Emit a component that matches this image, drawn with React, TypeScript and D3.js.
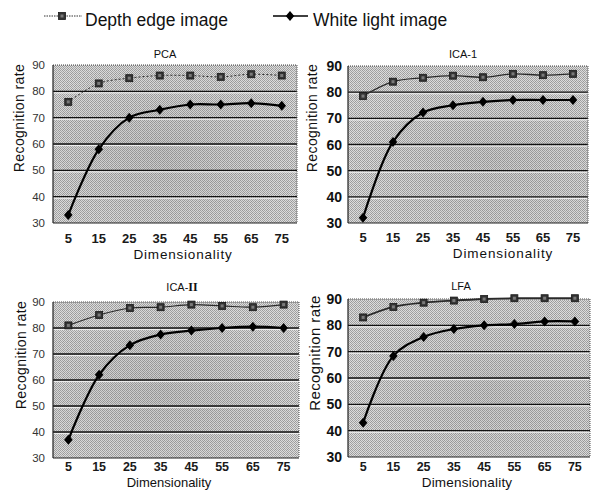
import React from "react";
import * as d3 from "d3";

const dims = ["5", "15", "25", "35", "45", "55", "65", "75"];
const yTicks = [30, 40, 50, 60, 70, 80, 90];
const gridValues = [40, 50, 60, 70, 80];

const pcaDepth = [76, 83, 85, 86, 86, 85.5, 86.5, 86];
const pcaWhite = [33, 58, 70, 73, 75, 75, 75.5, 74.5];
const ica1Depth = [78.5, 84, 85.5, 86.3, 85.7, 87, 86.5, 87];
const ica1White = [32, 61, 72.2, 75, 76.3, 77, 77, 77];
const ica2Depth = [81, 85, 87.7, 88, 89, 88.5, 88, 89];
const ica2White = [37, 62, 73.4, 77.5, 79, 80, 80.5, 80];
const lfaDepth = [83, 87, 88.6, 89.4, 90, 90.3, 90.3, 90.3];
const lfaWhite = [43, 68.4, 75.6, 78.6, 80, 80.5, 81.5, 81.5];

const legendLabels = ["Depth edge image", "White light image"];
const yTitle = "Recognition rate";
const xTitle = "Dimensionality";

const FONT = "'Liberation Sans', Arial, sans-serif";

type Panel = {
  title: string;
  roman?: string;
  depth: number[];
  white: number[];
  x0: number; x1: number; y0: number; y1: number;
  titleX: number; titleY: number;
  yLabX: number; yLabY: number; yLabSize: number;
  yTickRight: number; yTickSize: number; yTickBold: boolean;
  xTickY: number; xTickSize: number; xTitleX: number; xTitleY: number; xTitleSize: number; xTitleSpacing: number;
  depthDash: string; depthWidth: number;
};

const panels: Panel[] = [
  {
    title: "PCA", depth: pcaDepth, white: pcaWhite,
    x0: 53, x1: 297, y0: 65, y1: 223,
    titleX: 165, titleY: 58,
    yLabX: 24, yLabY: 118, yLabSize: 14,
    yTickRight: 45, yTickSize: 11.5, yTickBold: false,
    xTickY: 243, xTickSize: 13, xTitleX: 183, xTitleY: 259, xTitleSize: 13.5, xTitleSpacing: 0.8,
    depthDash: "2,2", depthWidth: 1,
  },
  {
    title: "ICA-1", depth: ica1Depth, white: ica1White,
    x0: 348, x1: 588, y0: 66, y1: 223,
    titleX: 463, titleY: 58,
    yLabX: 317, yLabY: 118, yLabSize: 14,
    yTickRight: 342, yTickSize: 14, yTickBold: true,
    xTickY: 242, xTickSize: 13, xTitleX: 503, xTitleY: 258, xTitleSize: 13.5, xTitleSpacing: 0.9,
    depthDash: "", depthWidth: 1.3,
  },
  {
    title: "ICA-", roman: "II", depth: ica2Depth, white: ica2White,
    x0: 53, x1: 299, y0: 302, y1: 458,
    titleX: 182, titleY: 291,
    yLabX: 26, yLabY: 355, yLabSize: 14,
    yTickRight: 45, yTickSize: 11.5, yTickBold: false,
    xTickY: 471, xTickSize: 12.5, xTitleX: 169, xTitleY: 487, xTitleSize: 13, xTitleSpacing: 0,
    depthDash: "", depthWidth: 1.2,
  },
  {
    title: "LFA", depth: lfaDepth, white: lfaWhite,
    x0: 348, x1: 590, y0: 299, y1: 457,
    titleX: 461, titleY: 290,
    yLabX: 320, yLabY: 353, yLabSize: 15,
    yTickRight: 342, yTickSize: 14, yTickBold: true,
    xTickY: 471, xTickSize: 12.5, xTitleX: 467, xTitleY: 487, xTitleSize: 13.5, xTitleSpacing: 0.2,
    depthDash: "", depthWidth: 1.8,
  },
];

function SquareMarker({ x, y, s = 7 }: { x: number; y: number; s?: number }) {
  return (
    <g>
      <rect x={x - s / 2} y={y - s / 2} width={s} height={s} fill="#333" stroke="#1a1a1a" strokeWidth={0.8} />
      <rect x={x - s / 2 + 2} y={y - s / 2 + 2} width={s - 4} height={s - 4} fill="#7a7a7a" />
    </g>
  );
}

function DiamondMarker({ x, y, r = 5 }: { x: number; y: number; r?: number }) {
  return <path d={`M${x},${y - r}L${x + r * 0.85},${y}L${x},${y + r}L${x - r * 0.85},${y}Z`} fill="#000" />;
}

function PanelChart({ p, idx }: { p: Panel; idx: number }) {
  const x = d3.scaleBand<string>().domain(dims).range([p.x0, p.x1]).padding(0);
  const y = d3.scaleLinear().domain([30, 90]).range([p.y1, p.y0]);
  const cx = (d: string) => (x(d) as number) + x.bandwidth() / 2;
  const line = d3
    .line<number>()
    .x((_, i) => cx(dims[i]))
    .y((v) => y(v))
    .curve(d3.curveCatmullRom.alpha(0.5));
  const w = p.x1 - p.x0;
  const h = p.y1 - p.y0;
  return (
    <g>
      <rect x={p.x0} y={p.y0} width={w} height={h} fill="url(#dither)" />
      <rect x={p.x0} y={p.y0} width={w} height={h} fill={`url(#blotch${idx % 2})`} />
      {gridValues.map((g) => (
        <g key={g}>
          <line x1={p.x0} x2={p.x1} y1={y(g)} y2={y(g)} stroke="#111" strokeWidth={1.4} />
          <line x1={p.x0} x2={p.x1} y1={y(g) + 1.6} y2={y(g) + 1.6} stroke="#f2f2f2" strokeWidth={1} />
        </g>
      ))}
      <line x1={p.x0} x2={p.x1} y1={p.y0} y2={p.y0} stroke="#444" strokeWidth={1} strokeDasharray="1,1" />
      <line x1={p.x1} x2={p.x1} y1={p.y0} y2={p.y1} stroke="#555" strokeWidth={1} strokeDasharray="1,1" />
      <line x1={p.x0} x2={p.x0} y1={p.y0} y2={p.y1} stroke="#222" strokeWidth={1.2} />
      <line x1={p.x0} x2={p.x1} y1={p.y1} y2={p.y1} stroke="#222" strokeWidth={1.2} />

      <path d={line(p.depth) || ""} fill="none" stroke="#2a2a2a" strokeWidth={p.depthWidth} strokeDasharray={p.depthDash} />
      <path d={line(p.white) || ""} fill="none" stroke="#000" strokeWidth={2.2} />
      {p.depth.map((v, i) => (
        <SquareMarker key={"d" + i} x={cx(dims[i])} y={y(v)} />
      ))}
      {p.white.map((v, i) => (
        <DiamondMarker key={"w" + i} x={cx(dims[i])} y={y(v)} />
      ))}

      {yTicks.map((t) => (
        <text key={t} x={p.yTickRight} y={y(t)} textAnchor="end" dominantBaseline="central"
          fontSize={p.yTickSize} fontWeight={p.yTickBold ? "bold" : "normal"} fill={p.yTickBold ? "#111" : "#333"} fontFamily={FONT}>
          {t}
        </text>
      ))}
      {dims.map((d) => (
        <text key={d} x={cx(d)} y={p.xTickY} textAnchor="middle" fontSize={p.xTickSize} fontWeight="bold" fill="#1a1a1a" fontFamily={FONT}>
          {d}
        </text>
      ))}
      <text x={p.xTitleX} y={p.xTitleY} textAnchor="middle" fontSize={p.xTitleSize} letterSpacing={p.xTitleSpacing} fill="#111" fontFamily={FONT}>
        {xTitle}
      </text>
      <text transform={`translate(${p.yLabX},${p.yLabY}) rotate(-90)`} textAnchor="middle" fontSize={p.yLabSize}
        letterSpacing={0.4} fill="#111" fontFamily={FONT}>
        {yTitle}
      </text>
      <text x={p.titleX} y={p.titleY} textAnchor="middle" fontSize={11} fill="#111" fontFamily={FONT}>
        {p.title}
        {p.roman ? (
          <tspan fontFamily="'Liberation Serif', 'Times New Roman', serif" fontWeight="bold" fontSize={12}>{p.roman}</tspan>
        ) : null}
      </text>
    </g>
  );
}

export default function App() {
  return (
    <svg width={602} height={495} style={{ position: "absolute", left: 0, top: 0, background: "#fff" }}>
      <defs>
        <pattern id="dither" width={4} height={4} patternUnits="userSpaceOnUse">
          <rect width={4} height={4} fill="#dcdcdc" />
          <rect x={0} y={0} width={1} height={1} fill="#9c9c9c" />
          <rect x={2} y={0} width={1} height={1} fill="#a8a8a8" />
          <rect x={1} y={1} width={1} height={1} fill="#a4a4a4" />
          <rect x={3} y={1} width={1} height={1} fill="#969696" />
          <rect x={0} y={2} width={1} height={1} fill="#a2a2a2" />
          <rect x={2} y={2} width={1} height={1} fill="#9a9a9a" />
          <rect x={1} y={3} width={1} height={1} fill="#aaaaaa" />
          <rect x={3} y={3} width={1} height={1} fill="#a0a0a0" />
        </pattern>
        <radialGradient id="blotch0" cx="0.45" cy="0.55" r="0.6">
          <stop offset="0" stopColor="#606060" stopOpacity={0.16} />
          <stop offset="1" stopColor="#606060" stopOpacity={0} />
        </radialGradient>
        <radialGradient id="blotch1" cx="0.6" cy="0.6" r="0.6">
          <stop offset="0" stopColor="#606060" stopOpacity={0.13} />
          <stop offset="1" stopColor="#606060" stopOpacity={0} />
        </radialGradient>
      </defs>

      <g>
        <line x1={44} x2={82} y1={16} y2={16} stroke="#333" strokeWidth={1} strokeDasharray="1.5,1" />
        <SquareMarker x={62} y={16} />
        <text x={85} y={26} fontSize={17.5} fill="#111" fontFamily={FONT}>{legendLabels[0]}</text>
        <line x1={273} x2={308} y1={16} y2={16} stroke="#000" strokeWidth={1.6} />
        <DiamondMarker x={290} y={16} />
        <text x={313} y={26} fontSize={17.5} fill="#111" fontFamily={FONT}>{legendLabels[1]}</text>
      </g>

      {panels.map((p, i) => (
        <PanelChart key={p.title + i} p={p} idx={i} />
      ))}
    </svg>
  );
}
